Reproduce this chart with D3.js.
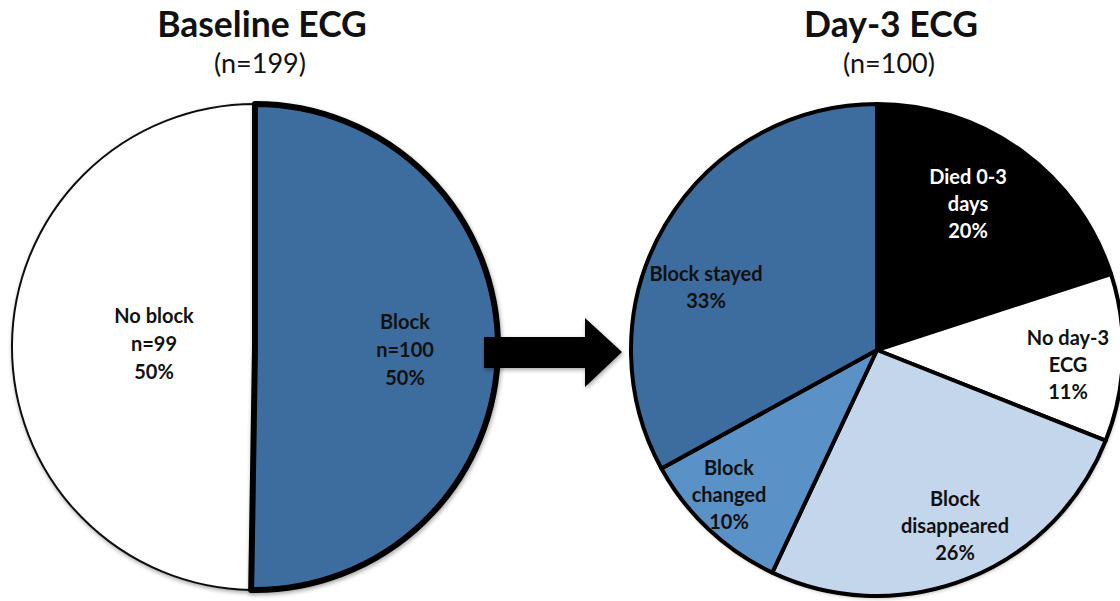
<!DOCTYPE html>
<html>
<head>
<meta charset="utf-8">
<script src="https://cdn.jsdelivr.net/npm/d3@7"></script>
<style>
  html, body { margin: 0; padding: 0; background: #fff; }
  svg { display: block; }
  text { font-family: Lato, "Open Sans", sans-serif; fill: #111; }
</style>
</head>
<body>
<svg id="chart" width="1120" height="601"></svg>
<script>
// Baseline ECG (n=199)
const baselineCategories = ["Block", "No block"];
const baselineCounts = [100, 99];
const baselinePercents = ["50%", "50%"];

// Day-3 ECG among patients with block at baseline (n=100)
const day3Categories = ["Died 0-3 days", "No day-3 ECG", "Block disappeared", "Block changed", "Block stayed"];
const day3Values = [20, 11, 26, 10, 33];

const titles = ["Baseline ECG", "Day-3 ECG"];
const subtitles = ["(n=199)", "(n=100)"];

// Label line breaks for each slice
const baselineLabelLines = [
  ["Block", "n=100", "50%"],
  ["No block", "n=99", "50%"]
];
const day3LabelLines = [
  ["Died 0-3", "days", "20%"],
  ["No day-3", "ECG", "11%"],
  ["Block", "disappeared", "26%"],
  ["Block", "changed", "10%"],
  ["Block stayed", "33%"]
];

const svg = d3.select("#chart");

// soft shadow used by the pies and arrow
const defs = svg.append("defs");
const shadow = defs.append("filter").attr("id", "soft").attr("x", "-10%").attr("y", "-10%").attr("width", "120%").attr("height", "120%");
shadow.append("feDropShadow").attr("dx", 1).attr("dy", 2).attr("stdDeviation", 2)
  .attr("flood-color", "#000").attr("flood-opacity", 0.35);

const left = { cx: 255, cy: 347, r: 243 };
const right = { cx: 877, cy: 350, r: 246 };

const pie = d3.pie().sort(null).value(d => d);

// ---- Baseline pie ----
const baseColors = d3.scaleOrdinal().domain(baselineCategories).range(["#3D6C9E", "#ffffff"]);
const baseArc = d3.arc().innerRadius(0).outerRadius(left.r);
const baseArcs = pie(baselineCounts);
const gL = svg.append("g").attr("transform", `translate(${left.cx},${left.cy})`);

// white "No block" slice first with a thin outline, then the block slice with a heavy border on top
gL.append("path")
  .attr("d", baseArc(baseArcs[1]))
  .attr("fill", baseColors(baselineCategories[1]))
  .attr("stroke", "#111").attr("stroke-width", 2)
  .attr("filter", "url(#soft)");
gL.append("path")
  .attr("d", baseArc(baseArcs[0]))
  .attr("fill", baseColors(baselineCategories[0]))
  .attr("stroke", "#000").attr("stroke-width", 6)
  .attr("stroke-linejoin", "round")
  .attr("filter", "url(#soft)");

// label anchors (offsets from pie centre)
const baseLabelAt = [[150, -18], [-101, -24]];
baseArcs.forEach((a, i) => {
  const t = gL.append("text")
    .attr("text-anchor", "middle")
    .attr("font-size", 20).attr("font-weight", 700)
    .attr("transform", `translate(${baseLabelAt[i][0]},${baseLabelAt[i][1]})`);
  baselineLabelLines[i].forEach((s, k) => {
    t.append("tspan").attr("x", 0).attr("y", k * 28).text(s);
  });
});

// ---- Day-3 pie ----
const dayColors = d3.scaleOrdinal().domain(day3Categories)
  .range(["#000000", "#ffffff", "#C3D6EB", "#5A91C7", "#3D6C9E"]);
const dayArc = d3.arc().innerRadius(0).outerRadius(right.r);
const dayArcs = pie(day3Values);
const gR = svg.append("g").attr("transform", `translate(${right.cx},${right.cy})`);

gR.append("circle").attr("r", right.r).attr("fill", "#fff").attr("filter", "url(#soft)");
gR.selectAll("path.slice").data(dayArcs).join("path")
  .attr("class", "slice")
  .attr("d", dayArc)
  .attr("fill", (d, i) => dayColors(day3Categories[i]))
  .attr("stroke", "#000").attr("stroke-width", 4)
  .attr("stroke-linejoin", "round");

const dayLabelAt = [[91, -166], [191, -5], [78, 156], [-148, 125], [-171, -69]];
const dayLabelFill = ["#ffffff", "#111", "#111", "#111", "#111"];
dayArcs.forEach((a, i) => {
  const t = gR.append("text")
    .attr("text-anchor", "middle")
    .attr("font-size", 20).attr("font-weight", 700)
    .style("fill", dayLabelFill[i])
    .attr("transform", `translate(${dayLabelAt[i][0]},${dayLabelAt[i][1]})`);
  day3LabelLines[i].forEach((s, k) => {
    t.append("tspan").attr("x", 0).attr("y", k * 27).text(s);
  });
});

// ---- Arrow between the pies ----
const ax0 = left.cx + left.r - 14;       // shaft start, over the block slice
const axTip = right.cx - right.r - 9;    // tip just short of the day-3 pie
const ay = 352;
const headBase = axTip - 37;
const arrowPts = [
  [ax0, ay - 15], [headBase, ay - 15], [headBase, ay - 34], [axTip, ay],
  [headBase, ay + 35], [headBase, ay + 16], [ax0, ay + 16]
];
svg.append("path")
  .attr("d", d3.line()(arrowPts) + "Z")
  .attr("fill", "#000")
  .attr("filter", "url(#soft)");

// ---- Titles ----
const titleX = [262, 891];
titles.forEach((s, i) => {
  svg.append("text").attr("x", titleX[i]).attr("y", 37)
    .attr("text-anchor", "middle").attr("font-size", 35.5).attr("font-weight", 700)
    .text(s);
  svg.append("text").attr("x", titleX[i] - 2).attr("y", 73)
    .attr("text-anchor", "middle").attr("font-size", 27).attr("font-weight", 400)
    .text(subtitles[i]);
});
</script>
</body>
</html>
